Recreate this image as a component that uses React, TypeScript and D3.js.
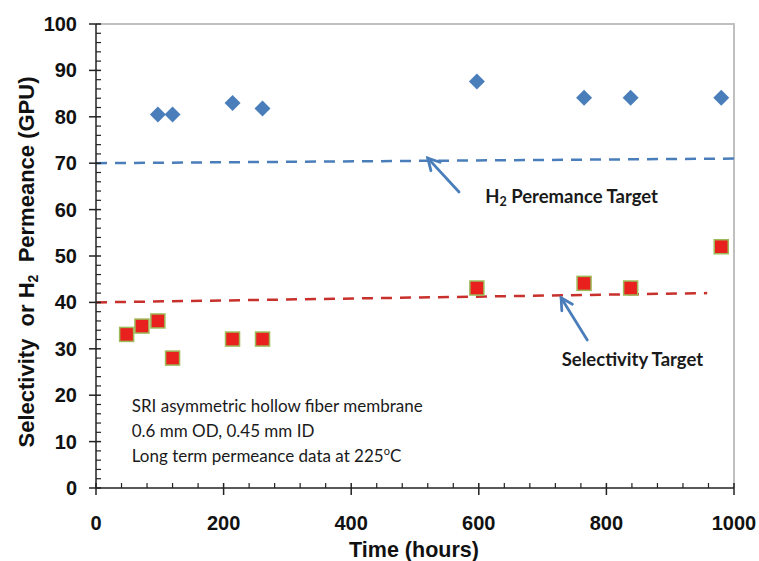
import React from 'react';
import * as d3 from 'd3';

// readings from the picture
const permTime = [97, 120, 214, 261, 597, 765, 838, 980];
const permValue = [80.5, 80.5, 83, 81.8, 87.6, 84.1, 84.1, 84.1];
const selTime = [48, 72, 97, 120, 214, 261, 597, 765, 838, 980];
const selValue = [33.1, 34.9, 36, 28, 32.1, 32.1, 43.1, 44.1, 43.1, 52];

const permTarget = [
  { t: 0, v: 70 },
  { t: 1000, v: 71 },
];
const selTarget = [
  { t: 0, v: 40 },
  { t: 958, v: 42 },
];

const xTicks = [0, 200, 400, 600, 800, 1000];
const yTicks = [0, 10, 20, 30, 40, 50, 60, 70, 80, 90, 100];

const noteLines = [
  'SRI asymmetric hollow fiber membrane',
  '0.6 mm OD, 0.45  mm ID',
  'Long term permeance data at 225',
];

const W = 759;
const H = 561;
const margin = { top: 24, right: 25, bottom: 73, left: 96 };

const App = () => {
  const x = d3.scaleLinear().domain([0, 1000]).range([margin.left, W - margin.right]);
  const y = d3.scaleLinear().domain([0, 100]).range([H - margin.bottom, margin.top]);

  const line = d3
    .line<{ t: number; v: number }>()
    .x((d) => x(d.t))
    .y((d) => y(d.v));

  const yMinor = d3.range(0, 101, 2).filter((v) => v % 10 !== 0);
  const xMinor = d3.range(0, 1001, 40).filter((v) => v % 200 !== 0);

  const blue = '#4a7ebb';
  const red = '#e8201e';
  const x0 = x(0);
  const y0 = y(0);

  // annotation arrows, in data units
  const arrows = [
    { from: [569, 63.8], to: [520, 71.1] },
    { from: [770, 31.9], to: [729, 41.0] },
  ];

  const arrowHead = (a: { from: number[]; to: number[] }) => {
    const fx = x(a.from[0]);
    const fy = y(a.from[1]);
    const tx = x(a.to[0]);
    const ty = y(a.to[1]);
    const ang = Math.atan2(fy - ty, fx - tx);
    const len = 13;
    const spread = 0.5;
    const p1 = [tx + len * Math.cos(ang - spread), ty + len * Math.sin(ang - spread)];
    const p2 = [tx + len * Math.cos(ang + spread), ty + len * Math.sin(ang + spread)];
    return `M${p1[0]},${p1[1]} L${tx},${ty} L${p2[0]},${p2[1]}`;
  };

  return (
    <svg
      width={W}
      height={H}
      style={{ position: 'absolute', left: 0, top: 0, background: '#fff' }}
    >
      {/* frame top/right */}
      <path
        d={`M${x0},${y(100)} H${x(1000)} V${y0}`}
        fill="none"
        stroke="#c0c0c0"
        strokeWidth={2}
      />

      {/* target lines */}
      <path
        d={line(permTarget) || ''}
        fill="none"
        stroke={blue}
        strokeWidth={2.5}
        strokeDasharray="11 8"
      />
      <path
        d={line(selTarget) || ''}
        fill="none"
        stroke="#c8302c"
        strokeWidth={2.5}
        strokeDasharray="11 8"
      />

      {/* y axis */}
      <line x1={x0} x2={x0} y1={y(100)} y2={y0} stroke="#222" strokeWidth={1.5} />
      {yMinor.map((v) => (
        <line key={'ym' + v} x1={x0} x2={x0 + 5} y1={y(v)} y2={y(v)} stroke="#222" strokeWidth={1.2} />
      ))}
      {yTicks.map((v) => (
        <g key={'y' + v}>
          <line x1={x0 - 7} x2={x0 + 5} y1={y(v)} y2={y(v)} stroke="#222" strokeWidth={1.5} />
          <text
            x={x0 - 19}
            y={y(v) + 7}
            textAnchor="end"
            fontFamily="Liberation Sans, Arial, sans-serif"
            fontWeight="bold"
            fontSize={20}
            fill="#111"
          >
            {v}
          </text>
        </g>
      ))}

      {/* x axis */}
      <line x1={x0} x2={x(1000)} y1={y0} y2={y0} stroke="#222" strokeWidth={1.5} />
      {xMinor.map((v) => (
        <line key={'xm' + v} x1={x(v)} x2={x(v)} y1={y0 - 5} y2={y0} stroke="#222" strokeWidth={1.2} />
      ))}
      {xTicks.map((v) => (
        <g key={'x' + v}>
          <line x1={x(v)} x2={x(v)} y1={y0 - 5} y2={y0 + 7} stroke="#222" strokeWidth={1.5} />
          <text
            x={x(v)}
            y={y0 + 42}
            textAnchor="middle"
            fontFamily="Liberation Sans, Arial, sans-serif"
            fontWeight="bold"
            fontSize={20}
            fill="#111"
          >
            {v}
          </text>
        </g>
      ))}

      {/* axis titles */}
      <text
        x={414}
        y={557}
        textAnchor="middle"
        fontFamily="Liberation Sans, Arial, sans-serif"
        fontWeight="bold"
        fontSize={21.5}
        fill="#111"
      >
        Time (hours)
      </text>
      <text
        transform={`translate(34,${262}) rotate(-90)`}
        textAnchor="middle"
        fontFamily="Liberation Sans, Arial, sans-serif"
        fontWeight="bold"
        fontSize={22}
        fill="#111"
        style={{ whiteSpace: 'pre' }}
      >
        {'Selectivity  or H'}
        <tspan fontSize={14} dy={4}>2</tspan>
        <tspan dy={-4}>{'  Permeance (GPU)'}</tspan>
      </text>

      {/* selectivity squares */}
      {selTime.map((t, i) => (
        <rect
          key={'s' + i}
          x={x(t) - 7}
          y={y(selValue[i]) - 7}
          width={14}
          height={14}
          fill={red}
          stroke="#9bbb59"
          strokeWidth={1.5}
        />
      ))}

      {/* permeance diamonds */}
      {permTime.map((t, i) => (
        <path
          key={'p' + i}
          d={d3.symbol(d3.symbolSquare, 128)() || ''}
          transform={`translate(${x(t)},${y(permValue[i])}) rotate(45)`}
          fill={blue}
        />
      ))}

      {/* arrows */}
      {arrows.map((a, i) => (
        <g key={'a' + i} stroke={blue} strokeWidth={2.8} fill="none" strokeLinecap="round">
          <line x1={x(a.from[0])} y1={y(a.from[1])} x2={x(a.to[0])} y2={y(a.to[1])} />
          <path d={arrowHead(a)} />
        </g>
      ))}

      {/* target labels */}
      <text
        x={x(610)}
        y={y(61.4)}
        fontFamily="Lato, Open Sans, sans-serif"
        fontWeight="bold"
        fontSize={18.5}
        fill="#1a1a1a"
      >
        H<tspan fontSize={12.5} dy={3}>2</tspan>
        <tspan dy={-3}> Peremance Target</tspan>
      </text>
      <text
        x={x(730)}
        y={y(26.3)}
        fontFamily="Lato, Open Sans, sans-serif"
        fontWeight="bold"
        fontSize={18.5}
        fill="#1a1a1a"
      >
        Selectivity Target
      </text>

      {/* note */}
      {noteLines.map((s, i) => (
        <text
          key={'n' + i}
          x={x(56)}
          y={412 + i * 25}
          fontFamily="Lato, Open Sans, sans-serif"
          fontSize={17}
          fill="#1a1a1a"
        >
          {s}
          {i === 2 ? (
            <>
              <tspan fontSize={11} dy={-7}>o</tspan>
              <tspan dy={7}>C</tspan>
            </>
          ) : null}
        </text>
      ))}
    </svg>
  );
};

export default App;
